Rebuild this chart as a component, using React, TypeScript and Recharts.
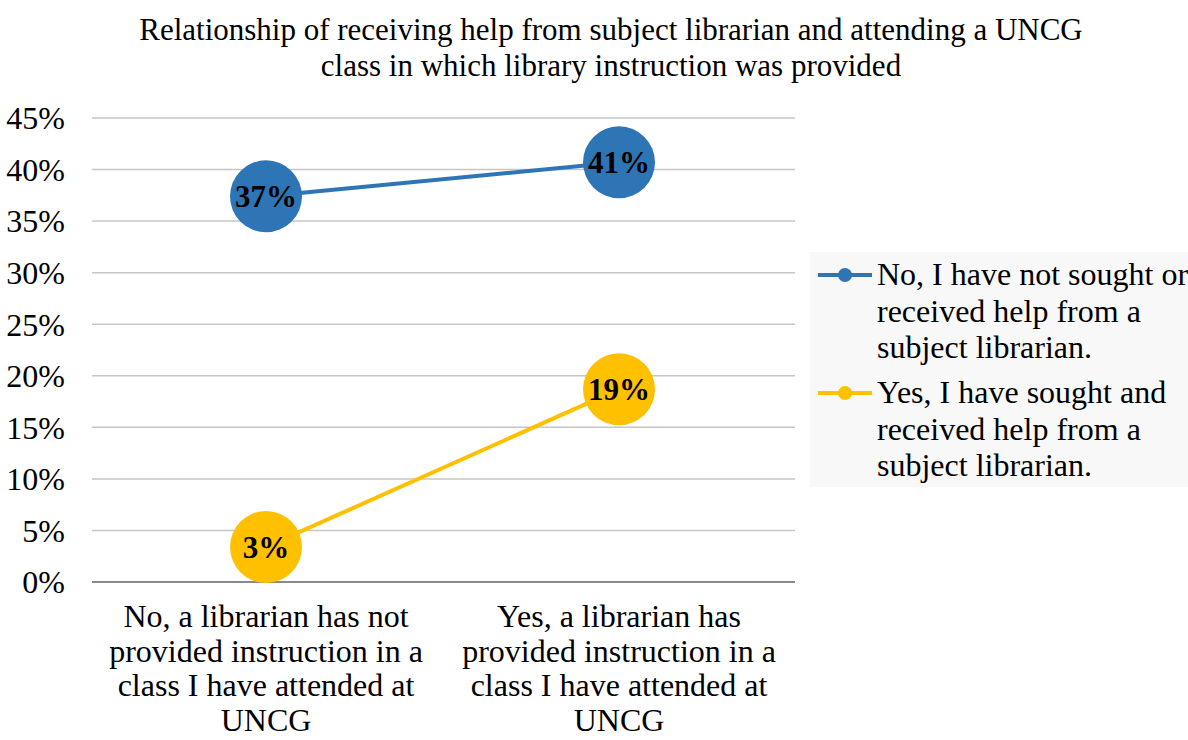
import { LineChart, Line, XAxis, YAxis, CartesianGrid, LabelList } from "recharts"

const categories = [
  "No, a librarian has not provided instruction in a class I have attended at UNCG",
  "Yes, a librarian has provided instruction in a class I have attended at UNCG",
]

const seriesNames = [
  "No, I have not sought or received help from a subject librarian.",
  "Yes, I have sought and received help from a subject librarian.",
]

const noHelpValues = [37.4, 40.7]
const yesHelpValues = [3.4, 18.7]

const yTicks = [0, 5, 10, 15, 20, 25, 30, 35, 40, 45]

const BLUE = "#2E75B6"
const YELLOW = "#FFC000"
const FONT = "'Liberation Serif', 'Times New Roman', serif"

const rows = categories.map((c, i) => ({
  category: c,
  noHelp: noHelpValues[i],
  yesHelp: yesHelpValues[i],
}))

let ctx: CanvasRenderingContext2D | null = null
function measure(s: string, size: number) {
  if (!ctx) ctx = document.createElement("canvas").getContext("2d")
  if (!ctx) return s.length * size * 0.45
  ctx.font = `${size}px 'Liberation Serif'`
  return ctx.measureText(s).width
}

function wrap(text: string, maxW: number, size: number) {
  const words = text.split(" ")
  const lines: string[] = []
  let cur = ""
  for (const w of words) {
    const next = cur ? cur + " " + w : w
    if (cur && measure(next, size) > maxW) {
      lines.push(cur)
      cur = w
    } else cur = next
  }
  if (cur) lines.push(cur)
  return lines
}

function XTick(props: any) {
  const { x, y, payload } = props
  const lines = wrap(String(payload.value), 345, 32)
  return (
    <text
      x={x}
      y={y + 37}
      textAnchor="middle"
      style={{ fontFamily: FONT, fontSize: 32, fill: "#000" }}
    >
      {lines.map((l, i) => (
        <tspan key={i} x={x} dy={i === 0 ? 0 : 34.5}>
          {l}
        </tspan>
      ))}
    </text>
  )
}

const pct = (v: any) => `${Math.round(Number(v))}%`

export default function App() {
  const legendItems = [
    { name: seriesNames[0], color: BLUE },
    { name: seriesNames[1], color: YELLOW },
  ]
  return (
    <div
      style={{
        position: "absolute",
        left: 0,
        top: 0,
        width: 1188,
        height: 740,
        background: "#fff",
        fontFamily: FONT,
      }}
    >
      <div
        style={{
          position: "absolute",
          left: 0,
          top: 12,
          width: 1222,
          textAlign: "center",
          fontSize: 31,
          lineHeight: "36px",
          color: "#000",
        }}
      >
        Relationship of receiving help from subject librarian and attending a UNCG
        <br />
        class in which library instruction was provided
      </div>

      <LineChart
        width={1188}
        height={740}
        data={rows}
        margin={{ top: 118, right: 393, bottom: 0, left: 0 }}
      >
        <CartesianGrid vertical={false} stroke="#c6c6c6" strokeWidth={1.5} />
        <XAxis
          dataKey="category"
          axisLine={{ stroke: "#8a8a8a", strokeWidth: 2 }}
          tickLine={false}
          height={158}
          interval={0}
          padding={{ left: 174, right: 176 }}
          tick={<XTick />}
        />
        <YAxis
          domain={[0, 45]}
          ticks={yTicks}
          width={92}
          axisLine={false}
          tickLine={false}
          tickSize={0}
          tickMargin={27}
          tickFormatter={(v) => `${v}%`}
          tick={{ fontFamily: FONT, fontSize: 32, fill: "#000" }}
        />
        <Line
          dataKey="noHelp"
          stroke={BLUE}
          strokeWidth={4}
          dot={{ r: 36, fill: BLUE, stroke: BLUE, strokeWidth: 0 }}
          activeDot={false}
          isAnimationActive={false}
        >
          <LabelList
            dataKey="noHelp"
            position="center"
            formatter={pct}
            style={{ fontFamily: FONT, fontSize: 31, fontWeight: "bold", fill: "#000" }}
          />
        </Line>
        <Line
          dataKey="yesHelp"
          stroke={YELLOW}
          strokeWidth={4}
          dot={{ r: 36, fill: YELLOW, stroke: YELLOW, strokeWidth: 0 }}
          activeDot={false}
          isAnimationActive={false}
        >
          <LabelList
            dataKey="yesHelp"
            position="center"
            formatter={pct}
            style={{ fontFamily: FONT, fontSize: 31, fontWeight: "bold", fill: "#000" }}
          />
        </Line>
      </LineChart>

      {/* Legend */}
      <div
        style={{
          position: "absolute",
          left: 810,
          top: 252,
          width: 378,
          height: 235,
          background: "#f8f8f8",
          overflow: "hidden",
        }}
      >
        {legendItems.map((item, i) => (
          <div key={i} style={{ position: "absolute", left: 0, top: 4 + i * 118, width: 378 }}>
            <svg
              width={60}
              height={20}
              style={{ position: "absolute", left: 6, top: 9 }}
            >
              <line x1={2} y1={10} x2={56} y2={10} stroke={item.color} strokeWidth={4} />
              <circle cx={29} cy={10} r={7} fill={item.color} />
            </svg>
            <div
              style={{
                position: "absolute",
                left: 67,
                top: 0,
                width: 318,
                fontSize: 32,
                lineHeight: "36.5px",
                color: "#000",
              }}
            >
              {item.name}
            </div>
          </div>
        ))}
      </div>
    </div>
  )
}
